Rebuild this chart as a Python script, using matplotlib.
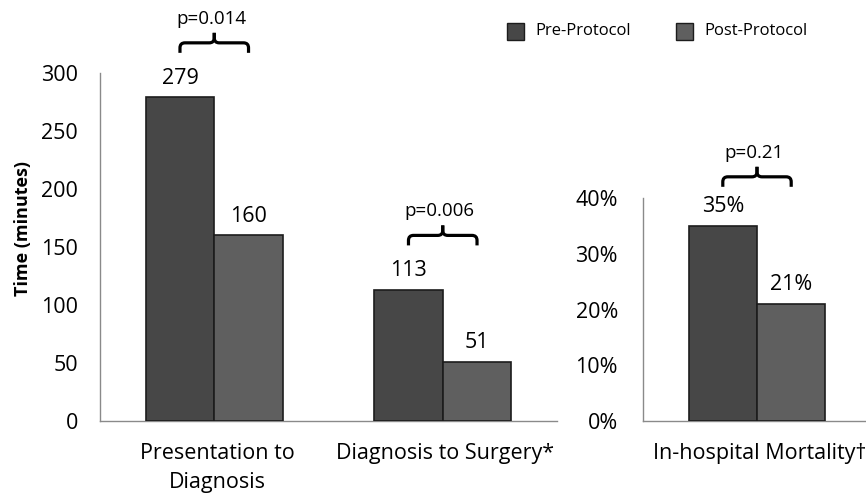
import matplotlib
matplotlib.use("Agg")
import matplotlib.pyplot as plt
from matplotlib.path import Path
from matplotlib.patches import PathPatch, Rectangle
from matplotlib.ticker import FuncFormatter

plt.rcParams['font.family'] = ['Open Sans', 'DejaVu Sans']

# ---- data ----
time_categories = ["Presentation to\nDiagnosis", "Diagnosis to Surgery*"]
time_pre = [279, 113]
time_post = [160, 51]
time_pvalues = ["p=0.014", "p=0.006"]

mort_categories = ["In-hospital Mortality\u2020"]
mort_pre = [0.35]
mort_post = [0.21]
mort_pvalues = ["p=0.21"]

series_names = ["Pre-Protocol", "Post-Protocol"]
time_ticks = [0, 50, 100, 150, 200, 250, 300]
mort_ticks = [0, 0.1, 0.2, 0.3, 0.4]

PRE_COLOR = "#474747"
POST_COLOR = "#5f5f5f"
EDGE = "#1c1c1c"
SPINE = "#8a8a8a"
BAR_W = 0.30
FS = 15.5

W, H = 866, 495
fig = plt.figure(figsize=(W / 100, H / 100), dpi=100)


def px_axes(left, right, top, bottom):
    return fig.add_axes([left / W, 1 - bottom / H, (right - left) / W, (bottom - top) / H])


def style(ax):
    for s in ("top", "right"):
        ax.spines[s].set_visible(False)
    for s in ("left", "bottom"):
        ax.spines[s].set_color(SPINE)
        ax.spines[s].set_linewidth(1.0)
    ax.tick_params(axis="y", length=0, pad=16, labelsize=FS, colors="black")
    ax.set_xticks([])


def draw_bars(ax, pre, post, fmt):
    for i, (a, b) in enumerate(zip(pre, post)):
        for x0, v, c in ((i - BAR_W, a, PRE_COLOR), (i, b, POST_COLOR)):
            ax.add_patch(Rectangle((x0, 0), BAR_W, v, facecolor=c, edgecolor=EDGE,
                                   linewidth=1.2, zorder=3))
            ax.annotate(fmt(v), (x0 + BAR_W / 2, v), xytext=(0, 13.7),
                        textcoords="offset points", ha="center", va="center",
                        fontsize=FS, zorder=4)


def category_labels(ax, labels):
    for i, lab in enumerate(labels):
        ax.annotate(lab, (i, 0), xytext=(2, -15.5), textcoords="offset points",
                    ha="center", va="top", fontsize=FS, linespacing=1.5,
                    annotation_clip=False)


def brace(ax, xl, xr, y, pval):
    # curly bracket between two bar centres, shaped in pixel units
    fig.canvas.draw()
    to_px = ax.transData.transform
    (pl, py) = to_px((xl, y))
    (pr, _) = to_px((xr, y))
    pc = (pl + pr) / 2
    r = 5
    drop, rise = 10, 10
    inv = ax.transData.inverted().transform
    for pe, sgn in ((pl, 1), (pr, -1)):
        verts = [(pe, py - drop), (pe, py - r), (pe, py), (pe + sgn * r, py),
                 (pc - sgn * r, py), (pc, py), (pc, py + r), (pc, py + rise)]
        codes = [Path.MOVETO, Path.LINETO, Path.CURVE3, Path.CURVE3,
                 Path.LINETO, Path.CURVE3, Path.CURVE3, Path.LINETO]
        dverts = [tuple(inv(v)) for v in verts]
        ax.add_patch(PathPatch(Path(dverts, codes), facecolor="none", edgecolor="black",
                               linewidth=2.3, clip_on=False, zorder=5,
                               capstyle="butt", joinstyle="round"))
    tx, ty = inv((pc - 3, py + 24))
    ax.text(tx, ty, pval, ha="center", va="center", fontsize=13.5, clip_on=False)


# ---- left panel: times ----
ax1 = px_axes(100, 557, 73, 421)
style(ax1)
ax1.set_xlim(-0.5, len(time_categories) - 0.5)
ax1.set_ylim(0, 300)
ax1.set_yticks(time_ticks)
draw_bars(ax1, time_pre, time_post, lambda v: f"{v:d}")
category_labels(ax1, time_categories)
fig.text(23 / W, 1 - 229 / H, "Time (minutes)", rotation=90, ha="center", va="center",
         fontsize=13, fontweight="bold")

# ---- right panel: mortality ----
ax2 = px_axes(643, 871, 198, 421)
style(ax2)
ax2.set_xlim(-0.5, len(mort_categories) - 0.5)
ax2.set_ylim(0, 0.4)
ax2.set_yticks(mort_ticks)
ax2.yaxis.set_major_formatter(FuncFormatter(lambda v, _: f"{v * 100:.0f}%"))
ax2.tick_params(axis="y", pad=18)
draw_bars(ax2, mort_pre, mort_post, lambda v: f"{v * 100:.0f}%")
category_labels(ax2, mort_categories)

# ---- significance brackets ----
for i, p in enumerate(time_pvalues):
    brace(ax1, i - BAR_W / 2, i + BAR_W / 2, max(time_pre[i], time_post[i]) + 47, p)
for i, p in enumerate(mort_pvalues):
    brace(ax2, i - BAR_W / 2, i + BAR_W / 2, max(mort_pre[i], mort_post[i]) + 0.088, p)

# ---- legend ----
for x_sq, name, c in ((507, series_names[0], PRE_COLOR), (676, series_names[1], POST_COLOR)):
    fig.patches.append(Rectangle((x_sq / W, 1 - 40 / H), 17 / W, 17 / H, facecolor=c,
                                 edgecolor=EDGE, linewidth=1.0, transform=fig.transFigure))
    fig.text((x_sq + 28) / W, 1 - 31 / H, name, ha="left", va="center", fontsize=12)

fig.savefig("out.png", dpi=100)
